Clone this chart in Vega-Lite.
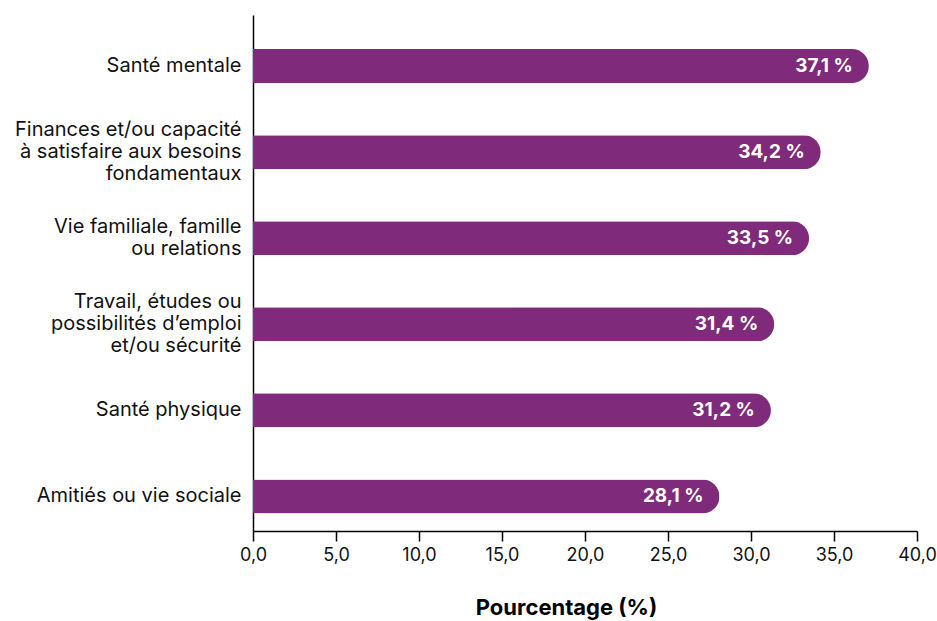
{
  "$schema": "https://vega.github.io/schema/vega-lite/v6.json",
  "width": 664,
  "height": 516,
  "autosize": {"type": "none"},
  "padding": {"left": 253, "top": 15, "right": 20, "bottom": 90},
  "background": "white",
  "data": {
    "values": [
      {"categorie": "Santé mentale", "pct": 37.1},
      {"categorie": "Finances et/ou capacité|à satisfaire aux besoins|fondamentaux", "pct": 34.2},
      {"categorie": "Vie familiale, famille|ou relations", "pct": 33.5},
      {"categorie": "Travail, études ou|possibilités d’emploi|et/ou sécurité", "pct": 31.4},
      {"categorie": "Santé physique", "pct": 31.2},
      {"categorie": "Amitiés ou vie sociale", "pct": 28.1}
    ]
  },
  "transform": [
    {"calculate": "replace(format(datum.pct, '.1f'), '.', ',') + ' %'", "as": "etiquette"}
  ],
  "encoding": {
    "y": {
      "field": "categorie",
      "type": "nominal",
      "sort": null,
      "scale": {"paddingInner": 0.605, "paddingOuter": 0.3, "align": 0.66},
      "axis": {
        "title": null,
        "ticks": false,
        "domainColor": "#000000",
        "domainWidth": 1.5,
        "labelExpr": "split(datum.label, '|')",
        "labelFont": "Inter",
        "labelFontSize": 20,
        "labelColor": "#111111",
        "labelLineHeight": 22,
        "labelPadding": 12,
        "labelLimit": 260,
        "labelOffset": {
          "condition": [
            {"test": "length(split(datum.value, '|')) == 3", "value": -22},
            {"test": "length(split(datum.value, '|')) == 2", "value": -11}
          ],
          "value": 0
        }
      }
    },
    "x": {
      "field": "pct",
      "type": "quantitative",
      "scale": {"domain": [0, 40], "nice": false},
      "axis": {
        "values": [0, 5, 10, 15, 20, 25, 30, 35, 40],
        "labelExpr": "replace(format(datum.value, '.1f'), '.', ',')",
        "labelFlush": false,
        "grid": false,
        "domainColor": "#000000",
        "domainWidth": 1.5,
        "tickColor": "#000000",
        "tickWidth": 1.5,
        "tickSize": 10,
        "labelFont": "Inter",
        "labelFontSize": 18,
        "labelColor": "#111111",
        "labelPadding": 5,
        "title": "Pourcentage (%)",
        "titleFont": "Inter",
        "titleFontSize": 22,
        "titleFontWeight": "bold",
        "titleColor": "#000000",
        "titlePadding": 33,
        "titleX": 313
      }
    }
  },
  "layer": [
    {
      "mark": {"type": "bar", "color": "#7F2A7A", "cornerRadiusEnd": 17}
    },
    {
      "mark": {
        "type": "text",
        "align": "right",
        "baseline": "middle",
        "dx": -16,
        "color": "white",
        "font": "Inter",
        "fontSize": 19,
        "fontWeight": "bold"
      },
      "encoding": {"text": {"field": "etiquette"}}
    }
  ],
  "config": {"view": {"stroke": null}}
}
